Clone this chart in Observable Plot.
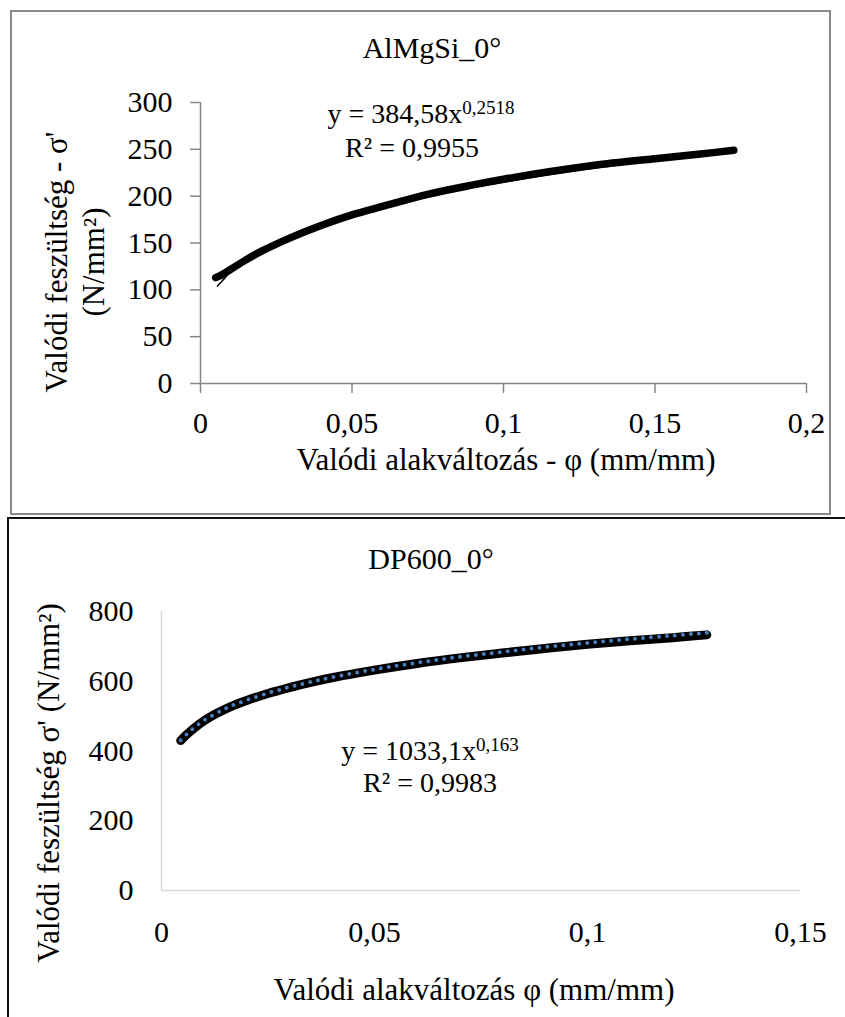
<!DOCTYPE html>
<html>
<head>
<meta charset="utf-8">
<script src="https://cdn.jsdelivr.net/npm/d3@7"></script>
<script src="https://cdn.jsdelivr.net/npm/@observablehq/plot@0.6"></script>
<style>
  html, body { margin: 0; padding: 0; background: #fff; }
  #root { position: relative; width: 845px; height: 1017px; overflow: hidden; background: #fff;
          font-family: "Liberation Serif", "Times New Roman", serif; color: #000; }
  .abs { position: absolute; white-space: nowrap; line-height: 1; }
  .panel { position: absolute; box-sizing: border-box; }
  svg { overflow: visible; }
</style>
</head>
<body>
<div id="root"></div>
<script>
// ---------- Data ----------
// Chart 1: AlMgSi_0°
const alTitle = "AlMgSi_0°";
const alStrain = [0.005, 0.007, 0.010, 0.015, 0.020, 0.030, 0.040, 0.050, 0.060, 0.075, 0.090, 0.100, 0.115, 0.130, 0.150, 0.165, 0.176];
const alStress = [113, 116, 122, 132, 141, 156, 169, 180, 189, 202, 212, 218, 226, 233, 240, 245, 249];
const alTrendStrain = [0.0056, 0.008, 0.011, 0.015, 0.020, 0.030, 0.050, 0.075, 0.100, 0.125, 0.150, 0.176];
const alTrendStress = [104, 112.5, 123, 132, 143, 159, 181, 201, 215, 228, 238, 248];
const alXTicks = [0, 0.05, 0.1, 0.15, 0.2];
const alYTicks = [0, 50, 100, 150, 200, 250, 300];
const alEqMain = "y = 384,58x";
const alEqExp = "0,2518";
const alR2 = "R² = 0,9955";
const alXLabel = "Valódi alakváltozás - φ (mm/mm)";
const alYLabel1 = "Valódi feszültség - σ'";
const alYLabel2 = "(N/mm²)";

// Chart 2: DP600_0°
const dpTitle = "DP600_0°";
const dpStrain = [0.0045, 0.006, 0.008, 0.010, 0.013, 0.016, 0.020, 0.025, 0.030, 0.035, 0.040, 0.050, 0.060, 0.070, 0.080, 0.090, 0.100, 0.110, 0.120, 0.128];
const dpStress = [430, 448, 469, 487, 508, 526, 545, 565, 582, 597, 610, 632, 651, 667, 681, 694, 706, 716, 725, 733];
const dpTrendStrain = [0.0045, 0.006, 0.008, 0.010, 0.013, 0.016, 0.020, 0.025, 0.030, 0.035, 0.040, 0.050, 0.060, 0.070, 0.080, 0.090, 0.100, 0.110, 0.120, 0.128];
const dpTrendStress = [431, 449, 470, 488, 509, 527, 546, 566, 583, 598, 611, 634, 653, 670, 684, 698, 710, 721, 731, 739];
const dpXTicks = [0, 0.05, 0.1, 0.15];
const dpYTicks = [0, 200, 400, 600, 800];
const dpEqMain = "y = 1033,1x";
const dpEqExp = "0,163";
const dpR2 = "R² = 0,9983";
const dpXLabel = "Valódi alakváltozás φ (mm/mm)";
const dpYLabel = "Valódi feszültség σ' (N/mm²)";

// ---------- Helpers ----------
const FONT = "'Liberation Serif', 'Times New Roman', serif";
const fmt = d => String(d).replace(".", ",");
const root = document.getElementById("root");
const zip = (xs, ys) => xs.map((x, i) => ({x, y: ys[i]}));

function textAt(html, cx, baseline, fs) {
  const d = document.createElement("div");
  d.className = "abs";
  d.style.fontSize = fs + "px";
  d.style.left = cx + "px";
  d.style.top = (baseline - 0.8375 * fs) + "px";
  d.style.transform = "translateX(-50%)";
  d.innerHTML = html;
  root.appendChild(d);
  return d;
}
function rotText(lines, cx, cy, fs, lh) {
  const d = document.createElement("div");
  d.className = "abs";
  d.style.fontSize = fs + "px";
  d.style.lineHeight = lh + "px";
  d.style.textAlign = "center";
  d.style.left = cx + "px";
  d.style.top = cy + "px";
  d.style.transform = "translate(-50%,-50%) rotate(-90deg)";
  d.innerHTML = lines.join("<br>");
  root.appendChild(d);
}
function panel(left, top, width, height, color) {
  const p = document.createElement("div");
  p.className = "panel";
  Object.assign(p.style, {left: left + "px", top: top + "px", width: width + "px", height: height + "px",
    border: "2px solid " + color});
  root.appendChild(p);
}
function place(svg, left, top) {
  svg.style.position = "absolute";
  svg.style.left = left + "px";
  svg.style.top = top + "px";
  root.appendChild(svg);
}

// ---------- Panel frames ----------
panel(10, 10, 821, 505, "#8a8a8a");
panel(7, 517, 860, 520, "#111");

// ---------- Chart 1 ----------
const gray1 = "#868686";
const chart1 = Plot.plot({
  width: 845, height: 520,
  marginLeft: 200, marginRight: 39, marginTop: 102, marginBottom: 137,
  x: {domain: [0, 0.2]},
  y: {domain: [0, 300]},
  style: {fontFamily: FONT, background: "transparent", color: "#000", overflow: "visible"},
  marks: [
    Plot.ruleX([0], {stroke: gray1, strokeWidth: 1.5}),
    Plot.ruleY([0], {stroke: gray1, strokeWidth: 1.5}),
    Plot.axisY({ticks: alYTicks, tickSize: 10, tickPadding: 18, stroke: gray1, strokeWidth: 1.5,
      fill: "#000", fontSize: 30, tickFormat: fmt, label: null}),
    Plot.axisX({ticks: alXTicks, tickSize: 10, tickPadding: 18, stroke: gray1, strokeWidth: 1.5,
      fill: "#000", fontSize: 30, tickFormat: fmt, label: null}),
    Plot.line(zip(alStrain, alStress), {x: "x", y: "y", stroke: "#000", strokeWidth: 7.5,
      curve: "catmull-rom", strokeLinecap: "round"}),
    Plot.line(zip(alTrendStrain, alTrendStress), {x: "x", y: "y", stroke: "#000", strokeWidth: 1.5,
      curve: "catmull-rom"})
  ]
});
place(chart1, 0, 0);

textAt(alTitle, 432, 58, 30);
textAt(alEqMain + '<span style="font-size:19px;vertical-align:9px">' + alEqExp + '</span>', 421, 121, 28);
textAt(alR2, 412, 157, 28);
textAt(alXLabel, 506, 470, 31);
rotText([alYLabel1, alYLabel2], 75, 262, 31, 37);

// ---------- Chart 2 ----------
const gray2 = "#d9d9d9";
const chart2 = Plot.plot({
  width: 845, height: 517,
  marginLeft: 161, marginRight: 45, marginTop: 111, marginBottom: 127,
  x: {domain: [0, 0.15]},
  y: {domain: [0, 800]},
  style: {fontFamily: FONT, background: "transparent", color: "#000", overflow: "visible"},
  marks: [
    Plot.ruleX([0], {stroke: gray2, strokeWidth: 1.5}),
    Plot.ruleY([0], {stroke: gray2, strokeWidth: 1.5}),
    Plot.axisY({ticks: dpYTicks, tickSize: 0, tickPadding: 28, fill: "#000", fontSize: 30,
      tickFormat: fmt, label: null}),
    Plot.axisX({ticks: dpXTicks, tickSize: 0, tickPadding: 30, fill: "#000", fontSize: 30,
      tickFormat: fmt, label: null}),
    Plot.line(zip(dpStrain, dpStress), {x: "x", y: "y", stroke: "#000", strokeWidth: 9,
      curve: "catmull-rom", strokeLinecap: "round"}),
    Plot.line(zip(dpTrendStrain, dpTrendStress), {x: "x", y: "y", stroke: "#4a7ebb", strokeWidth: 4,
      strokeDasharray: "0 8", strokeLinecap: "round", curve: "catmull-rom"})
  ]
});
place(chart2, 0, 500);

textAt(dpTitle, 431, 569, 30);
textAt(dpEqMain + '<span style="font-size:19px;vertical-align:9px">' + dpEqExp + '</span>', 430, 758, 28);
textAt(dpR2, 430, 792, 28);
textAt(dpXLabel, 474, 1000, 31);
rotText([dpYLabel], 48, 783, 31, 31);
</script>
</body>
</html>
